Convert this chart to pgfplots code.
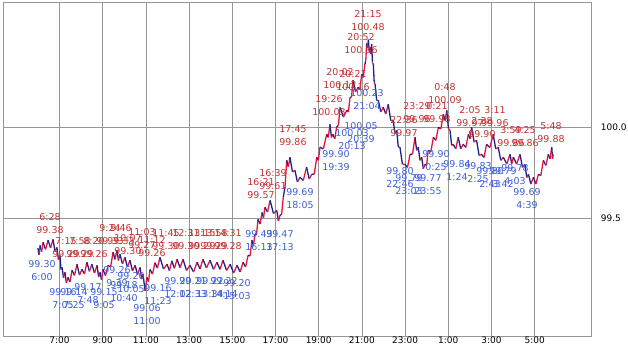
\documentclass[border=0pt]{standalone}
\usepackage{fontspec}
\setmainfont{DejaVu Sans}
\usepackage{pgfplots}
\pgfplotsset{compat=1.18}
\definecolor{gridgray}{RGB}{150,150,150}
\definecolor{serblue}{RGB}{25,35,140}
\definecolor{serred}{RGB}{230,20,60}
\definecolor{lblred}{RGB}{195,50,50}
\definecolor{lblblue}{RGB}{60,95,215}
\newcommand{\hi}[3]{\node[lblred,align=center,inner sep=0pt,font=\fontsize{9.5}{12.5}\selectfont] at (axis cs:#1) {#2\\#3};}
\newcommand{\lo}[3]{\node[lblblue,align=center,inner sep=0pt,font=\fontsize{9.5}{12.5}\selectfont] at (axis cs:#1) {#2\\#3};}
\begin{document}
\begin{tikzpicture}
\useasboundingbox (-3bp,-16bp) rectangle (625bp,336bp);
\begin{axis}[
  scale only axis, width=587.7bp, height=334bp,
  xmin=4.384, xmax=31.593, ymin=98.852, ymax=100.687,
  axis line style={gridgray},
  xtick={7,9,...,29},
  xticklabels={7:00,9:00,11:00,13:00,15:00,17:00,19:00,21:00,23:00,1:00,3:00,5:00},
  ytick={99.5,100}, yticklabels={99.5,100.0}, yticklabel pos=right,
  grid=major, grid style={gridgray, line width=0.7bp}, major tick length=0pt,
  tick label style={font=\fontsize{9}{10}\selectfont},
  xticklabel style={inner sep=0.5bp},
  yticklabel style={anchor=west, inner sep=0pt, xshift=10bp},
  clip=false,
  colormap={rb}{color=(serblue) color=(serred)},
]
\addplot[mesh, shader=flat corner, point meta=explicit, line width=1.3bp] table[x=h,y=v,meta=c] {
h v c
6.00 99.335 0
6.05 99.298 1
6.10 99.350 0
6.17 99.314 1
6.24 99.367 0
6.355 99.328 1
6.47 99.378 0
6.585 99.336 1
6.70 99.383 0
6.79 99.316 1
6.88 99.339 0
6.95 99.272 1
7.02 99.295 0
7.07 99.217 1
7.12 99.229 0
7.185 99.171 1
7.25 99.202 0
7.32 99.143 1
7.39 99.174 0
7.485 99.149 1
7.58 99.213 0
7.695 99.185 1
7.81 99.246 0
7.925 99.187 1
8.04 99.218 0
8.155 99.193 1
8.27 99.257 0
8.385 99.207 1
8.50 99.246 0
8.62 99.198 1
8.74 99.240 0
8.81 99.176 1
8.88 99.202 0
8.945 99.160 1
9.01 99.218 0
9.13 99.184 1
9.25 99.240 0
9.365 99.231 1
9.48 99.312 0
9.57 99.273 1
9.66 99.323 0
9.73 99.267 1
9.80 99.301 0
9.915 99.248 1
10.03 99.284 0
10.145 99.231 1
10.26 99.268 0
10.38 99.209 1
10.50 99.240 0
10.615 99.190 1
10.73 99.229 0
10.80 99.165 1
10.87 99.191 0
10.96 99.100 1
11.05 99.174 0
11.12 99.151 1
11.19 99.218 0
11.305 99.192 1
11.42 99.255 0
11.535 99.225 1
11.65 99.284 0
11.815 99.220 1
11.98 99.246 0
12.09 99.211 1
12.20 99.265 0
12.32 99.224 1
12.44 99.273 0
12.58 99.228 1
12.72 99.273 0
12.88 99.212 1
13.04 99.240 0
13.205 99.204 1
13.37 99.257 0
13.505 99.220 1
13.64 99.273 0
13.805 99.226 1
13.97 99.268 0
14.13 99.218 1
14.29 99.257 0
14.43 99.218 1
14.57 99.268 0
14.735 99.212 1
14.90 99.246 0
15.06 99.198 1
15.22 99.240 0
15.36 99.204 1
15.50 99.257 0
15.615 99.231 1
15.73 99.295 0
15.82 99.292 1
15.91 99.378 0
15.98 99.350 1
16.05 99.411 0
16.12 99.407 1
16.19 99.493 0
16.285 99.467 1
16.38 99.531 0
16.445 99.500 1
16.51 99.559 0
16.63 99.533 1
16.75 99.597 0
16.905 99.525 1
17.06 99.542 0
17.135 99.484 1
17.21 99.515 0
17.285 99.520 1
17.36 99.614 0
17.44 99.671 1
17.52 99.817 0
17.595 99.781 1
17.67 99.834 0
17.785 99.753 1
17.90 99.762 0
18.015 99.698 1
18.13 99.724 0
18.285 99.707 1
18.44 99.779 0
18.56 99.715 1
18.68 99.740 0
18.795 99.742 1
18.91 99.834 0
18.985 99.817 1
19.06 99.889 0
19.215 99.880 1
19.37 99.960 0
19.445 99.943 1
19.52 100.015 0
19.59 99.943 1
19.66 99.960 0
19.745 99.935 1
19.83 99.999 0
19.91 100.009 1
19.99 100.108 0
20.145 100.055 1
20.30 100.092 0
20.375 100.083 1
20.45 100.163 0
20.52 100.165 1
20.59 100.257 0
20.705 100.193 1
20.82 100.218 0
20.905 100.209 1
20.99 100.290 0
21.065 100.273 1
21.14 100.345 0
21.18 100.366 1
21.22 100.460 0
21.26 100.434 1
21.30 100.480 0
21.34 100.414 1
21.38 100.438 0
21.415 100.402 1
21.45 100.455 0
21.49 100.355 1
21.53 100.345 0
21.57 100.245 1
21.61 100.235 0
21.685 100.146 1
21.76 100.147 0
21.875 100.083 1
21.99 100.108 0
22.105 100.072 1
22.22 100.125 0
22.335 100.036 1
22.45 100.037 0
22.53 99.965 1
22.61 99.982 0
22.685 99.891 1
22.76 99.889 0
22.875 99.797 1
22.99 99.795 0
23.11 99.778 1
23.23 99.850 0
23.345 99.852 1
23.46 99.944 0
23.535 99.872 1
23.61 99.889 0
23.69 99.817 1
23.77 99.834 0
23.845 99.770 1
23.92 99.795 0
23.995 99.789 1
24.07 99.872 0
24.19 99.863 1
24.31 99.944 0
24.425 99.927 1
24.54 99.999 0
24.655 99.990 1
24.77 100.070 0
24.85 100.036 1
24.93 100.092 0
25.005 99.992 1
25.08 99.982 0
25.155 99.899 1
25.23 99.905 0
25.345 99.880 1
25.46 99.944 0
25.575 99.880 1
25.69 99.905 0
25.81 99.888 1
25.93 99.960 0
26.005 99.935 1
26.08 99.999 0
26.195 99.918 1
26.31 99.927 0
26.425 99.844 1
26.54 99.850 0
26.655 99.833 1
26.77 99.905 0
26.925 99.888 1
27.08 99.960 0
27.195 99.880 1
27.31 99.889 0
27.43 99.817 1
27.55 99.834 0
27.705 99.797 1
27.86 99.850 0
27.935 99.797 1
28.01 99.834 0
28.165 99.797 1
28.32 99.850 0
28.435 99.778 1
28.55 99.795 0
28.63 99.723 1
28.71 99.740 0
28.825 99.687 1
28.94 99.724 0
29.055 99.687 1
29.17 99.740 0
29.285 99.734 1
29.40 99.817 0
29.515 99.789 1
29.63 99.850 0
29.71 99.825 1
29.79 99.889 0
29.825 99.825 1
29.86 99.850 0
};
% highs (red)
\hi{6.560,99.470}{6:28}{99.38}
\hi{7.301,99.338}{7:15}{99.29}
\hi{7.949,99.338}{7:58}{99.29}
\hi{8.597,99.338}{8:20}{99.26}
\hi{9.338,99.409}{9:24}{99.33}
\hi{9.847,99.409}{9:46}{99.33}
\hi{10.171,99.354}{10:07}{99.30}
\hi{10.819,99.387}{11:03}{99.27}
\hi{11.282,99.343}{11:12}{99.26}
\hi{11.931,99.382}{11:45}{99.30}
\hi{12.856,99.382}{12:31}{99.30}
\hi{13.597,99.382}{13:15}{99.29}
\hi{14.153,99.382}{13:58}{99.29}
\hi{14.801,99.382}{14:31}{99.28}
\hi{16.329,99.662}{16:21}{99.57}
\hi{16.884,99.712}{16:39}{99.61}
\hi{17.810,99.953}{17:45}{99.86}
\hi{19.477,100.118}{19:26}{100.03}
\hi{19.986,100.266}{20:02}{100.12}
\hi{20.588,100.255}{20:21}{100.16}
\hi{20.958,100.459}{20:52}{100.36}
\hi{21.282,100.585}{21:15}{100.48}
\hi{22.949,100.003}{22:36}{99.97}
\hi{23.551,100.080}{23:29}{99.96}
\hi{24.477,100.080}{0:21}{99.98}
\hi{24.847,100.184}{0:48}{100.09}
\hi{26.005,100.058}{2:05}{99.97}
\hi{26.560,99.997}{2:38}{99.90}
\hi{27.162,100.058}{3:11}{99.96}
\hi{27.903,99.948}{3:59}{99.86}
\hi{28.556,99.948}{4:25}{99.86}
\hi{29.755,99.970}{5:48}{99.88}
% lows (blue)
\lo{6.190,99.212}{99.30}{6:00}
\lo{7.162,99.058}{99.16}{7:05}
\lo{7.671,99.058}{99.14}{7:25}
\lo{8.319,99.085}{99.17}{7:48}
\lo{9.060,99.058}{99.15}{9:05}
\lo{9.662,99.179}{99.26}{9:39}
\lo{10.310,99.146}{99.20}{10:05}
\lo{9.986,99.096}{99.18}{10:40}
\lo{11.051,98.970}{99.06}{11:00}
\lo{11.560,99.080}{99.16}{11:23}
\lo{12.486,99.118}{99.20}{12:02}
\lo{13.181,99.118}{99.21}{12:33}
\lo{13.968,99.118}{99.22}{13:34}
\lo{14.616,99.118}{99.22}{14:14}
\lo{15.218,99.107}{99.20}{15:03}
\lo{16.236,99.376}{99.43}{16:13}
\lo{17.208,99.376}{99.47}{17:13}
\lo{18.134,99.607}{99.69}{18:05}
\lo{19.801,99.816}{99.90}{19:39}
\lo{20.542,99.931}{100.03}{20:13}
\lo{20.958,99.970}{100.05}{20:39}
\lo{21.236,100.151}{100.23}{21:04}
\lo{22.764,99.723}{99.80}{22:46}
\lo{23.181,99.684}{99.79}{23:03}
\lo{24.060,99.684}{99.77}{23:55}
\lo{24.431,99.816}{99.90}{0:25}
\lo{25.403,99.761}{99.84}{1:24}
\lo{26.375,99.750}{99.83}{2:25}
\lo{26.931,99.723}{99.80}{2:43}
\lo{27.532,99.723}{99.79}{3:42}
\lo{28.088,99.739}{99.78}{4:03}
\lo{28.644,99.607}{99.69}{4:39}
\end{axis}
\end{tikzpicture}
\end{document}
